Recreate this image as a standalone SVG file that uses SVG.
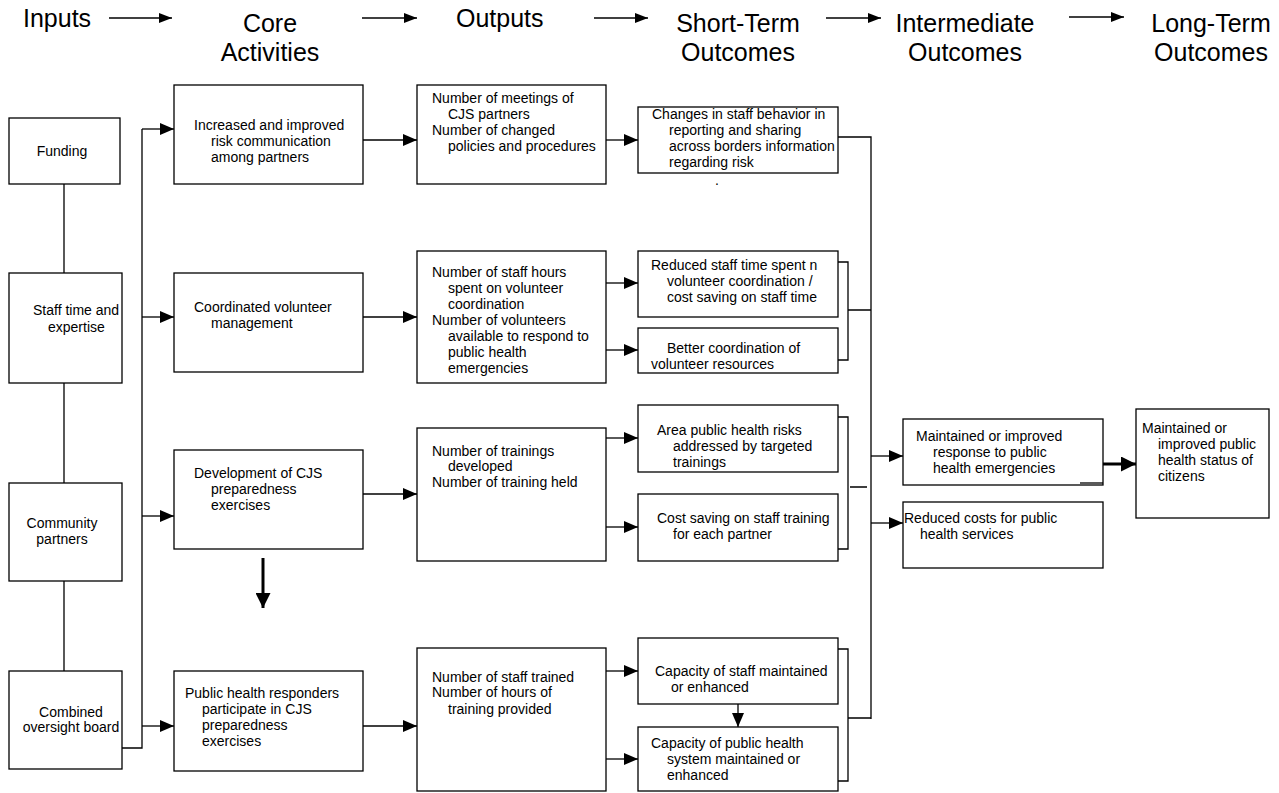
<svg xmlns="http://www.w3.org/2000/svg" width="1279" height="793" viewBox="0 0 1279 793">
<style>
.box{fill:#fff;stroke:#000;stroke-width:1.3}
.t{font-family:"Liberation Sans",Arial,sans-serif;font-size:14px;fill:#000}
.h{font-family:"Liberation Sans",Arial,sans-serif;font-size:25px;fill:#000}
.c{text-anchor:middle}
.ln{fill:none;stroke:#000;stroke-width:1.3}
.ar{fill:none;stroke:#000;stroke-width:1.3;marker-end:url(#ah)}
.hr{fill:none;stroke:#000;stroke-width:1.5;marker-end:url(#hh)}
.tk{fill:none;stroke:#000;stroke-width:3;marker-end:url(#th)}
</style>
<defs>
<marker id="ah" markerUnits="userSpaceOnUse" markerWidth="14" markerHeight="12" refX="14" refY="6" orient="auto"><path d="M0,0L14,6L0,12z" fill="#000"/></marker>
<marker id="hh" markerUnits="userSpaceOnUse" markerWidth="13" markerHeight="10" refX="13" refY="5" orient="auto"><path d="M0,0L13,5L0,10z" fill="#000"/></marker>
<marker id="th" markerUnits="userSpaceOnUse" markerWidth="15" markerHeight="15" refX="15" refY="7.5" orient="auto"><path d="M0,0L15,7.5L0,15z" fill="#000"/></marker>
</defs>

<g id="headers">
<text class="h" x="23" y="27">Inputs</text>
<text class="h c" x="270" y="32">Core</text>
<text class="h c" x="270" y="61">Activities</text>
<text class="h" x="456" y="27">Outputs</text>
<text class="h c" x="738" y="32">Short-Term</text>
<text class="h c" x="738" y="61">Outcomes</text>
<text class="h c" x="965" y="32">Intermediate</text>
<text class="h c" x="965" y="61">Outcomes</text>
<text class="h c" x="1211" y="32">Long-Term</text>
<text class="h c" x="1211" y="61">Outcomes</text>
</g>

<g id="connectors">
<path class="hr" d="M109,18H172"/>
<path class="hr" d="M362,18H417"/>
<path class="hr" d="M594,18H648"/>
<path class="hr" d="M826,18H881"/>
<path class="hr" d="M1069,17H1124"/>
<path class="ln" d="M64,184V273M64,383V483M64,581V671"/>
<path class="ln" d="M119,748H142V129"/>
<path class="ar" d="M142,129H174"/>
<path class="ar" d="M142,317H174"/>
<path class="ar" d="M142,516H174"/>
<path class="ar" d="M142,726H174"/>
<path class="ar" d="M363,140H417"/>
<path class="ar" d="M363,317H417"/>
<path class="ar" d="M363,494H417"/>
<path class="ar" d="M363,726H417"/>
<path class="ar" d="M606,140H638"/>
<path class="ar" d="M606,283H638"/>
<path class="ar" d="M606,350H638"/>
<path class="ar" d="M606,438H638"/>
<path class="ar" d="M606,527H638"/>
<path class="ar" d="M606,671H638"/>
<path class="ar" d="M606,759H638"/>
<path class="tk" d="M263,558V608"/>
<path class="ar" d="M738,704V727"/>
<path class="ln" d="M838,137H871V719"/>
<path class="ln" d="M838,262H848V360H838M848,310H871"/>
<path class="ln" d="M838,417H848V549H838M850,487H867"/>
<path class="ln" d="M838,649H848V781H838M848,718H871"/>
<path class="ar" d="M871,456H903"/>
<path class="ar" d="M871,523H903"/>
<path class="tk" d="M1103,464H1136"/>
</g>

<g id="funding"><rect class="box" x="9" y="118" width="111" height="66"/><text class="t c" x="62" y="156">Funding</text></g>
<g id="staff"><rect class="box" x="9" y="273" width="113" height="110"/><text class="t" x="33" y="315">Staff time and</text><text class="t" x="48" y="332">expertise</text></g>
<g id="community"><rect class="box" x="9" y="483" width="113" height="98"/><text class="t c" x="62" y="528">Community</text><text class="t c" x="62" y="544">partners</text></g>
<g id="combined"><rect class="box" x="9" y="671" width="113" height="98"/><text class="t c" x="71" y="717">Combined</text><text class="t c" x="71" y="732">oversight board</text></g>

<g id="act1"><rect class="box" x="174" y="85" width="189" height="99"/><text class="t" x="194" y="130">Increased and improved</text><text class="t" x="211" y="146">risk communication</text><text class="t" x="211" y="162">among partners</text></g>
<g id="act2"><rect class="box" x="174" y="273" width="189" height="99"/><text class="t" x="194" y="312">Coordinated volunteer</text><text class="t" x="211" y="328">management</text></g>
<g id="act3"><rect class="box" x="174" y="450" width="189" height="99"/><text class="t" x="194" y="478">Development of CJS</text><text class="t" x="211" y="494">preparedness</text><text class="t" x="211" y="510">exercises</text></g>
<g id="act4"><rect class="box" x="174" y="671" width="189" height="100"/><text class="t" x="185" y="698">Public health responders</text><text class="t" x="202" y="714">participate in CJS</text><text class="t" x="202" y="730">preparedness</text><text class="t" x="202" y="746">exercises</text></g>

<g id="out1"><rect class="box" x="417" y="85" width="189" height="99"/><text class="t" x="432" y="103">Number of meetings of</text><text class="t" x="448" y="119">CJS partners</text><text class="t" x="432" y="135">Number of changed</text><text class="t" x="448" y="151">policies and procedures</text></g>
<g id="out2"><rect class="box" x="417" y="251" width="189" height="132"/><text class="t" x="432" y="277">Number of staff hours</text><text class="t" x="448" y="293">spent on volunteer</text><text class="t" x="448" y="309">coordination</text><text class="t" x="432" y="325">Number of volunteers</text><text class="t" x="448" y="341">available to respond to</text><text class="t" x="448" y="357">public health</text><text class="t" x="448" y="373">emergencies</text></g>
<g id="out3"><rect class="box" x="417" y="428" width="189" height="133"/><text class="t" x="432" y="456">Number of trainings</text><text class="t" x="448" y="471">developed</text><text class="t" x="432" y="487">Number of training held</text></g>
<g id="out4"><rect class="box" x="417" y="648" width="189" height="143"/><text class="t" x="432" y="682">Number of staff trained</text><text class="t" x="432" y="697">Number of hours of</text><text class="t" x="448" y="714">training provided</text></g>

<g id="st1"><rect class="box" x="638" y="107" width="200" height="66"/><text class="t" x="652" y="119">Changes in staff behavior in</text><text class="t" x="669" y="135">reporting and sharing</text><text class="t" x="669" y="151">across borders information</text><text class="t" x="669" y="167">regarding risk</text><text class="t" x="715" y="185">.</text></g>
<g id="st2"><rect class="box" x="638" y="251" width="200" height="66"/><text class="t" x="651" y="270">Reduced staff time spent n</text><text class="t" x="667" y="286">volunteer coordination /</text><text class="t" x="667" y="302">cost saving on staff time</text></g>
<g id="st3"><rect class="box" x="638" y="328" width="200" height="45"/><text class="t" x="667" y="353">Better coordination of</text><text class="t" x="651" y="369">volunteer resources</text></g>
<g id="st4"><rect class="box" x="638" y="405" width="200" height="67"/><text class="t" x="657" y="435">Area public health risks</text><text class="t" x="673" y="451">addressed by targeted</text><text class="t" x="673" y="467">trainings</text></g>
<g id="st5"><rect class="box" x="638" y="494" width="200" height="67"/><text class="t" x="657" y="523">Cost saving on staff training</text><text class="t" x="673" y="539">for each partner</text></g>
<g id="st6"><rect class="box" x="638" y="638" width="200" height="66"/><text class="t" x="655" y="676">Capacity of staff maintained</text><text class="t" x="671" y="692">or enhanced</text></g>
<g id="st7"><rect class="box" x="638" y="727" width="200" height="64"/><text class="t" x="651" y="748">Capacity of public health</text><text class="t" x="667" y="764">system maintained or</text><text class="t" x="667" y="780">enhanced</text></g>

<g id="int1"><rect class="box" x="903" y="419" width="200" height="66"/><path class="ln" d="M1080,483H1103"/><text class="t" x="916" y="441">Maintained or improved</text><text class="t" x="933" y="457">response to public</text><text class="t" x="933" y="473">health emergencies</text></g>
<g id="int2"><rect class="box" x="903" y="502" width="200" height="66"/><text class="t" x="904" y="523">Reduced costs for public</text><text class="t" x="920" y="539">health services</text></g>
<g id="lt1"><rect class="box" x="1136" y="409" width="133" height="109"/><text class="t" x="1142" y="433">Maintained or</text><text class="t" x="1158" y="449">improved public</text><text class="t" x="1158" y="465">health status of</text><text class="t" x="1158" y="481">citizens</text></g>
</svg>
